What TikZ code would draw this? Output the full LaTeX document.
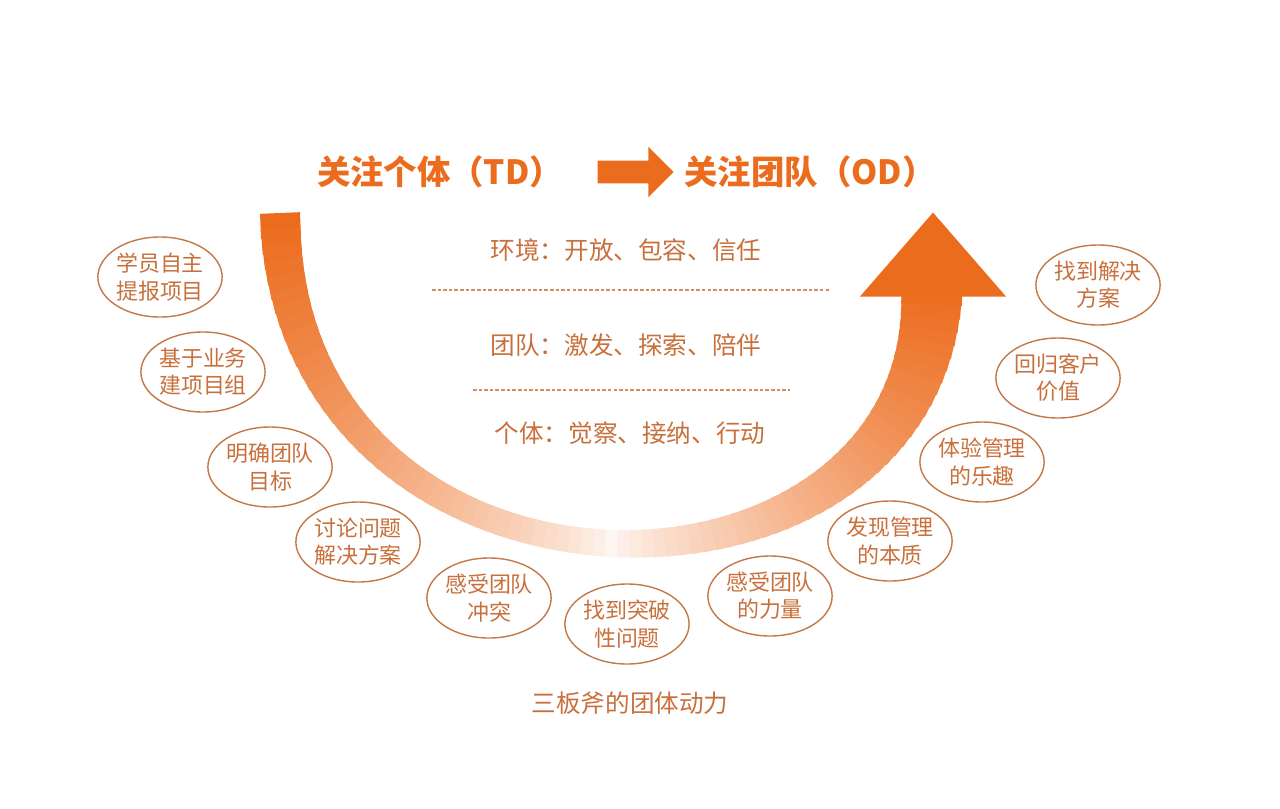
\documentclass[tikz,border=0pt]{standalone}
\usepackage{fontspec}
\newfontfamily\cjk{Noto Sans CJK SC}
\usetikzlibrary{shapes.geometric,shapes.arrows}
\definecolor{arcorange}{RGB}{236,108,30}
\definecolor{txtorange}{RGB}{200,112,60}
\definecolor{ringorange}{RGB}{196,120,70}
\begin{document}
\begin{tikzpicture}[x=0.02cm,y=-0.02cm]

\tikzset{title/.style={font=\cjk\bfseries\fontsize{19}{22}\selectfont, text=arcorange}}
\tikzset{layer/.style={font=\cjk\fontsize{14}{17}\selectfont, text=txtorange}}
\tikzset{bubble/.style={ellipse, draw=ringorange, line width=0.8, minimum width=124*0.02cm, minimum height=80*0.02cm, inner sep=0, align=center, font=\cjk\fontsize{12.5}{15.5}\selectfont, text=txtorange}}
\tikzset{divider/.style={dashed, dash pattern=on 2pt off 1.2pt, draw=txtorange!80, line width=0.6}}

\useasboundingbox (0,0) rectangle (1280,808);

% gradient arc
\foreach \i in {0,...,79}{
  \pgfmathsetmacro{\ta}{\i/80}
  \pgfmathsetmacro{\tb}{min(1,(\i+1.6)/80)}
  \pgfmathsetmacro{\xa}{(1-\ta)^3*280+3*(1-\ta)^2*\ta*285+3*(1-\ta)*\ta^2*925+\ta^3*932}
  \pgfmathsetmacro{\ya}{(1-\ta)^3*213+3*(1-\ta)^2*\ta*640+3*(1-\ta)*\ta^2*640+\ta^3*292}
  \pgfmathsetmacro{\xb}{(1-\tb)^3*280+3*(1-\tb)^2*\tb*285+3*(1-\tb)*\tb^2*925+\tb^3*932}
  \pgfmathsetmacro{\yb}{(1-\tb)^3*213+3*(1-\tb)^2*\tb*640+3*(1-\tb)*\tb^2*640+\tb^3*292}
  \pgfmathsetmacro{\mix}{6+94*(abs(2*\ta-1))^0.8}
  \pgfmathsetmacro{\wd}{(40+22*\ta-24*sin(180*\ta))*0.02}
  \draw[arcorange!\mix!white, line width=\wd cm] (\xa,\ya) -- (\xb,\yb);
}
\node[draw=none, fill=arcorange, isosceles triangle, isosceles triangle apex angle=82, shape border rotate=90, minimum height=84*0.02cm, inner sep=0, anchor=apex] (head) at (933,212) {};

% titles
\node[title] (td) at (440,172) {关注个体（TD）};
\node[title] (od) at (810,172) {关注团队（OD）};
\node[draw=none, fill=arcorange, single arrow, single arrow head extend=14*0.02cm, text height=0, text depth=0, inner xsep=0, inner ysep=11*0.02cm, minimum height=76*0.02cm] (go) at (630,172) {};

% layers
\node[layer] (env) at (626,250) {环境：开放、包容、信任};
\coordinate (d1a) at (432,290); \coordinate (d1b) at (830,290);
\draw[divider] (d1a) -- (d1b);
\node[layer] (team) at (626,345) {团队：激发、探索、陪伴};
\coordinate (d2a) at (473,390); \coordinate (d2b) at (790,390);
\draw[divider] (d2a) -- (d2b);
\node[layer] (self) at (630,433) {个体：觉察、接纳、行动};

% steps
\node[bubble] (s1) at (160,277) {学员自主\\提报项目};
\node[bubble] (s2) at (203,372) {基于业务\\建项目组};
\node[bubble] (s3) at (270,467) {明确团队\\目标};
\node[bubble] (s4) at (358,542) {讨论问题\\解决方案};
\node[bubble] (s5) at (489,598) {感受团队\\冲突};
\node[bubble] (s6) at (627,624) {找到突破\\性问题};
\node[bubble] (s7) at (770,596) {感受团队\\的力量};
\node[bubble] (s8) at (890,541) {发现管理\\的本质};
\node[bubble] (s9) at (982,462) {体验管理\\的乐趣};
\node[bubble] (s10) at (1058,378) {回归客户\\价值};
\node[bubble] (s11) at (1098,285) {找到解决\\方案};

\node[layer] (cap) at (630,703) {三板斧的团体动力};

\end{tikzpicture}
\end{document}
